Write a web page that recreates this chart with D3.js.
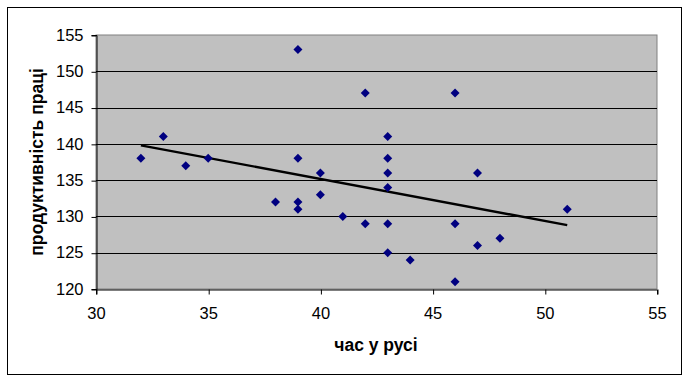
<!DOCTYPE html>
<html>
<head>
<meta charset="utf-8">
<script src="https://cdn.jsdelivr.net/npm/d3@7"></script>
<style>
	body { margin: 0; background: #fff; }
	svg { display: block; font-family: "Liberation Sans", Arial, sans-serif; }
	.tickText { font-size: 16.5px; fill: #000; }
	.axisTitle { font-size: 17.5px; font-weight: bold; fill: #000; }
</style>
</head>
<body>
<svg id="chart" width="689" height="382"></svg>
<script>
// hours on the road vs labour productivity
var hours = [32, 33, 34, 35, 38, 39, 39, 39, 39, 40, 40, 41, 42, 42, 43, 43, 43, 43, 43, 43, 44, 46, 46, 46, 47, 47, 48, 51];
var productivity = [138, 141, 137, 138, 132, 153, 138, 132, 131, 136, 133, 130, 147, 129, 141, 138, 136, 134, 129, 125, 124, 147, 129, 121, 136, 126, 127, 131];

// linear trend, as drawn in the original
var trendX = [32, 51];
var trendY = [139.8, 128.8];

var xTicks = [30, 35, 40, 45, 50, 55];
var yTicks = [120, 125, 130, 135, 140, 145, 150, 155];

var xTitle = 'час у русі';
var yTitle = 'продуктивність праці';

var svg = d3.select('#chart');

// outer frame
svg.append('rect')
	.attr('x', 7.5).attr('y', 7.5).attr('width', 674).attr('height', 367)
	.attr('fill', '#fff').attr('stroke', '#000').attr('stroke-width', 1);

var plot = {left: 96, top: 35, right: 657, bottom: 289};

var x = d3.scaleLinear().domain([30, 55]).range([plot.left, plot.right]);
var y = d3.scaleLinear().domain([120, 155]).range([plot.bottom, plot.top]);

// plot area
svg.append('rect')
	.attr('x', plot.left).attr('y', plot.top)
	.attr('width', plot.right - plot.left).attr('height', plot.bottom - plot.top)
	.attr('fill', '#c0c0c0').attr('stroke', '#808080').attr('stroke-width', 1);

// gridlines
svg.append('g').selectAll('line')
	.data(yTicks.filter(function(d) { return d > 120 && d < 155; }))
	.enter().append('line')
	.attr('x1', plot.left).attr('x2', plot.right)
	.attr('y1', function(d) { return Math.round(y(d)) + 0.5; })
	.attr('y2', function(d) { return Math.round(y(d)) + 0.5; })
	.attr('stroke', '#000').attr('stroke-width', 1);

// axes
var yAxis = svg.append('g')
	.attr('transform', 'translate(' + (plot.left + 0.5) + ',0)')
	.call(d3.axisLeft(y).tickValues(yTicks).tickSize(5).tickPadding(8).tickFormat(d3.format('d')));

var xAxis = svg.append('g')
	.attr('transform', 'translate(0,' + (plot.bottom + 0.5) + ')')
	.call(d3.axisBottom(x).tickValues(xTicks).tickSize(5).tickPadding(13).tickFormat(d3.format('d')));

[xAxis, yAxis].forEach(function(a) {
	a.select('.domain').attr('stroke', '#000');
	a.selectAll('.tick line').attr('stroke', '#000');
	a.selectAll('.tick text').attr('class', 'tickText').attr('font-family', null).attr('font-size', null);
});
xAxis.selectAll('.tick line').attr('transform', 'translate(0.5,0)');
yAxis.selectAll('.tick line').attr('transform', 'translate(0,0.5)');

// trend line
var line = d3.line()
	.x(function(d) { return x(d[0]); })
	.y(function(d) { return y(d[1]); });

svg.append('path')
	.datum(d3.zip(trendX, trendY))
	.attr('d', line)
	.attr('fill', 'none').attr('stroke', '#000').attr('stroke-width', 2.4);

// points
svg.append('g').selectAll('path')
	.data(d3.zip(hours, productivity))
	.enter().append('path')
	.attr('transform', function(d) { return 'translate(' + x(d[0]) + ',' + y(d[1]) + ')'; })
	.attr('d', 'M0,-4.5L4.5,0L0,4.5L-4.5,0Z')
	.attr('fill', '#000080');

// titles
svg.append('text')
	.attr('class', 'axisTitle')
	.attr('x', 376).attr('y', 351)
	.attr('text-anchor', 'middle')
	.text(xTitle);

svg.append('text')
	.attr('class', 'axisTitle')
	.attr('transform', 'translate(43,162) rotate(-90)')
	.attr('text-anchor', 'middle')
	.text(yTitle);
</script>
</body>
</html>
